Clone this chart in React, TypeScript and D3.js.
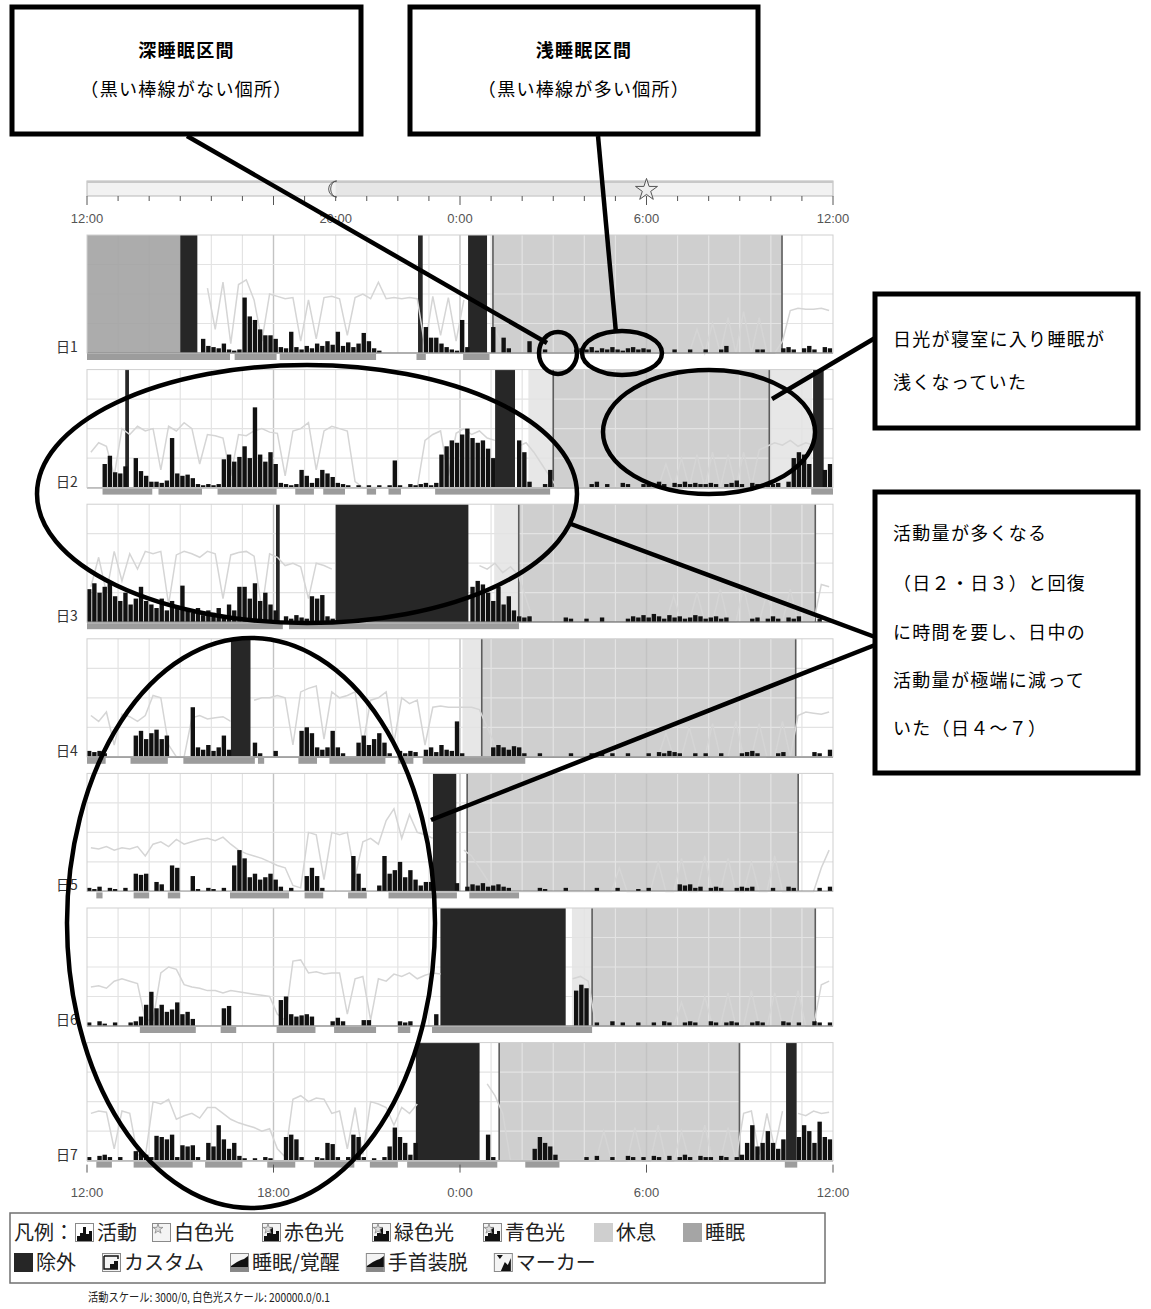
import React, { useEffect, useRef } from "react";
import * as d3 from "d3";

const N = null;

const dayLabels = ["日1", "日2", "日3", "日4", "日5", "日6", "日7"];

// activity, 10-minute bins from 12:00 (144 per day), % of row height
const act1 = [
  0, 0, 0, 0, 0, 0, 0, 0, 0, 0, 0, 0,
  0, 0, 0, 0, 0, 0, 0, 0, 0, 0, 12, 6,
  5, 4, 8, 3, 2, 3, 47, 31, 28, 20, 15, 15,
  12, 5, 4, 18, 5, 3, 6, 4, 8, 6, 10, 7,
  18, 6, 9, 5, 8, 17, 10, 4, 2, 0, 0, 0,
  0, 0, 0, 0, 0, 22, 13, 13, 8, 5, 3, 2,
  28, 5, 0, 0, 0, 0, 22, 0, 13, 4, 0, 0,
  0, 10, 0, 0, 3, 0, 0, 0, 0, 0, 3, 4,
  3, 5, 2, 4, 3, 5, 3, 2, 4, 5, 3, 4,
  3, 0, 0, 0, 0, 3, 0, 0, 3, 0, 0, 3,
  0, 0, 3, 6, 0, 0, 0, 0, 0, 3, 3, 0,
  0, 0, 4, 5, 3, 0, 4, 6, 3, 0, 5, 4,
];
const act2 = [
  0, 0, 0, 20, 27, 13, 12, 18, 0, 25, 14, 10,
  5, 5, 4, 6, 42, 12, 10, 11, 8, 3, 2, 3,
  2, 3, 24, 28, 22, 26, 35, 25, 68, 28, 22, 30,
  20, 4, 3, 2, 3, 15, 10, 4, 8, 15, 12, 9,
  4, 3, 2, 0, 2, 0, 2, 0, 2, 0, 2, 23,
  2, 0, 3, 2, 3, 4, 2, 4, 28, 35, 40, 38,
  45, 50, 42, 38, 40, 33, 25, 0, 0, 0, 0, 40,
  30, 5, 0, 0, 3, 15, 0, 0, 0, 0, 0, 0,
  0, 3, 5, 0, 3, 0, 0, 4, 3, 0, 0, 3,
  4, 3, 5, 3, 0, 4, 3, 5, 3, 4, 3, 3,
  4, 3, 0, 3, 4, 6, 3, 0, 4, 3, 0, 4,
  3, 4, 0, 5, 25, 30, 28, 20, 0, 0, 15, 20,
];
const act3 = [
  28, 33, 25, 30, 33, 22, 18, 25, 15, 20, 30, 18,
  15, 12, 20, 10, 18, 14, 31, 10, 8, 12, 6, 10,
  8, 12, 6, 15, 10, 30, 30, 20, 33, 18, 25, 15,
  10, 0, 5, 3, 6, 4, 3, 22, 20, 23, 5, 3,
  0, 0, 0, 0, 0, 0, 0, 0, 0, 0, 0, 0,
  0, 0, 0, 0, 0, 0, 0, 0, 0, 0, 0, 0,
  0, 0, 30, 35, 32, 25, 18, 30, 15, 22, 10, 5,
  4, 5, 0, 0, 0, 0, 0, 0, 4, 3, 0, 0,
  3, 0, 0, 4, 0, 0, 0, 0, 3, 5, 4, 6,
  4, 7, 5, 3, 6, 4, 5, 3, 4, 6, 5, 3,
  4, 5, 3, 4, 0, 0, 0, 0, 3, 4, 0, 3,
  5, 3, 0, 4, 3, 5, 0, 0, 0, 3, 0, 2,
];
const act4 = [
  5, 4, 5, 3, 0, 0, 0, 0, 0, 18, 22, 15,
  20, 23, 15, 18, 0, 0, 0, 0, 42, 8, 6, 10,
  5, 8, 18, 6, 0, 0, 0, 0, 12, 3, 0, 0,
  5, 0, 0, 0, 0, 22, 25, 20, 8, 6, 8, 22,
  8, 3, 0, 0, 12, 18, 10, 15, 20, 12, 3, 0,
  5, 3, 5, 4, 0, 6, 8, 4, 10, 6, 5, 30,
  3, 0, 0, 0, 0, 0, 8, 10, 8, 6, 9, 8,
  3, 0, 0, 3, 0, 0, 0, 0, 0, 3, 0, 0,
  0, 3, 0, 4, 0, 3, 0, 0, 3, 0, 0, 0,
  3, 0, 4, 3, 5, 4, 3, 0, 0, 3, 0, 3,
  0, 0, 3, 0, 0, 0, 3, 4, 5, 3, 0, 0,
  0, 3, 4, 0, 0, 0, 0, 0, 4, 3, 0, 6,
];
const act5 = [
  3, 2, 4, 0, 3, 2, 0, 3, 0, 15, 14, 15,
  0, 8, 6, 0, 22, 20, 0, 0, 13, 2, 0, 3,
  2, 0, 3, 0, 22, 35, 28, 12, 15, 10, 12, 15,
  10, 4, 0, 3, 0, 0, 13, 20, 13, 3, 0, 0,
  0, 0, 0, 30, 15, 3, 0, 0, 5, 30, 15, 18,
  25, 12, 18, 10, 5, 8, 8, 0, 0, 0, 0, 7,
  0, 4, 6, 5, 7, 4, 5, 6, 4, 3, 0, 0,
  0, 0, 0, 3, 2, 0, 0, 0, 3, 0, 0, 0,
  0, 0, 3, 0, 0, 0, 3, 0, 0, 0, 2, 0,
  3, 0, 0, 0, 0, 0, 6, 5, 6, 3, 4, 0,
  3, 4, 3, 0, 0, 3, 4, 3, 4, 0, 0, 0,
  3, 0, 0, 4, 3, 0, 0, 0, 0, 3, 0, 4,
];
const act6 = [
  3, 0, 4, 2, 0, 3, 0, 0, 3, 4, 8, 18,
  29, 15, 18, 12, 14, 20, 10, 12, 6, 0, 0, 0,
  0, 0, 15, 17, 0, 0, 0, 0, 0, 0, 0, 0,
  0, 22, 25, 10, 8, 9, 10, 8, 0, 0, 0, 4,
  7, 4, 0, 0, 0, 5, 5, 0, 0, 0, 0, 0,
  4, 3, 4, 0, 0, 0, 0, 10, 0, 0, 0, 0,
  0, 0, 0, 0, 0, 0, 0, 0, 0, 0, 0, 0,
  0, 0, 0, 0, 0, 0, 0, 0, 0, 0, 30, 35,
  32, 0, 3, 0, 0, 4, 0, 3, 0, 0, 3, 0,
  0, 3, 0, 4, 3, 0, 0, 3, 4, 3, 0, 0,
  4, 3, 0, 3, 4, 3, 0, 0, 3, 4, 3, 0,
  0, 0, 4, 3, 0, 3, 0, 0, 4, 3, 0, 3,
];
const act7 = [
  3, 0, 4, 5, 3, 0, 3, 0, 0, 8, 8, 5,
  3, 21, 20, 18, 22, 3, 13, 12, 13, 3, 0, 15,
  12, 30, 18, 10, 15, 4, 2, 0, 2, 0, 3, 2,
  0, 0, 20, 22, 18, 3, 0, 0, 3, 2, 15, 14,
  3, 0, 3, 22, 20, 3, 0, 2, 0, 3, 12, 28,
  20, 15, 5, 15, 0, 0, 0, 0, 0, 0, 0, 0,
  0, 0, 0, 0, 0, 22, 3, 0, 0, 0, 0, 0,
  0, 0, 10, 20, 15, 12, 5, 0, 0, 0, 0, 0,
  3, 0, 4, 0, 0, 3, 0, 0, 4, 3, 0, 3,
  0, 4, 3, 0, 4, 0, 3, 5, 3, 0, 4, 3,
  3, 0, 4, 3, 0, 3, 5, 15, 30, 12, 15, 25,
  15, 10, 18, 0, 0, 20, 30, 25, 15, 33, 20, 18,
];

// white light, 15-minute bins from 12:00 (96 per day), % of row height, null = no data
const light1 = [
  N, N, N, N, N, N, N, N,
  N, N, N, N, N, N, N, 55,
  20, 60, 8, 58, 62, 45, 10, 50,
  48, 46, 47, 10, 45, 12, 47, 48,
  46, 15, 47, 50, 46, 60, 46, 47,
  46, 47, 46, 5, 48, 15, 47, 10,
  45, N, N, N, 20, 5, 0, 0,
  0, 0, 0, 0, 0, 0, 0, 0,
  0, 0, 0, 0, 0, 0, 0, 0,
  0, 0, 0, 0, 0, 0, 20, 0,
  25, 0, 30, 0, 35, 0, 30, 0,
  0, 10, 36, 38, 37, 37, 38, 36,
];
const light2 = [
  30, 38, 35, 10, 50, 45, 52, 48,
  50, 15, 52, 48, 55, 50, 20, 45,
  44, 42, 10, 45, 44, 48, 50, 47,
  46, 10, 48, 50, 55, 15, 48, 52,
  50, 48, 5, 0, 0, 0, 0, 0,
  0, 0, 0, 40, 45, 48, 10, 46,
  50, 45, 48, 42, 40, N, N, 35,
  38, 30, 20, 10, 0, 0, 0, 0,
  0, 0, 0, 0, 0, 0, 0, 0,
  0, 0, 20, 0, 25, 0, 28, 0,
  30, 0, 28, 0, 30, 0, 32, 35,
  38, 36, 40, 35, 38, 36, N, 40,
];
const light3 = [
  30, 55, 25, 60, 35, 58, 45, 60,
  58, 60, 15, 57, 60, 58, 55, 60,
  58, 20, 57, 59, 60, 56, 10, 58,
  55, 48, 50, 47, 20, 50, 48, 45,
  N, N, N, N, N, N, N, N,
  N, N, N, N, N, N, N, N,
  N, N, 48, 45, 50, 42, 47, 40,
  20, 0, 0, 0, 0, 0, 0, 0,
  0, 0, 0, 0, 0, 0, 0, 0,
  0, 0, 0, 22, 0, 0, 25, 0,
  0, 28, 0, 0, 30, 0, 0, 25,
  0, 0, 28, 0, 0, 0, 32, 30,
];
const light4 = [
  35, 30, 38, 10, 36, 34, 30, 35,
  52, 50, 10, 0, 0, 33, 35, 32,
  33, 34, 30, N, N, 48, 50, 50,
  52, 50, 10, 55, 58, 60, 15, 55,
  50, 52, 55, 10, 48, 50, 55, 12,
  50, 45, 48, 10, 42, 43, 42, 42,
  42, 42, 40, 25, 10, 0, 0, 0,
  0, 0, 0, 0, 0, 0, 0, 0,
  0, 0, 0, 0, 0, 0, 0, 0,
  0, 0, 20, 0, 0, 25, 0, 0,
  28, 0, 0, 30, 0, 0, 28, 0,
  0, 30, 0, 35, 38, 37, 36, 38,
];
const light5 = [
  37, 36, 38, 35, 37, 36, 38, 30,
  40, 42, 38, 44, 40, 42, 44, 45,
  43, 46, 40, 35, 32, 30, 28, 25,
  22, 20, 5, 3, 50, 48, 10, 50,
  48, 50, 12, 42, 45, 40, 60, 70,
  45, 65, 50, 48, 45, N, N, N,
  35, 30, 20, 10, 0, 0, 0, 0,
  0, 0, 0, 0, 0, 0, 0, 0,
  0, 0, 0, 0, 20, 0, 0, 0,
  0, 25, 0, 0, 28, 0, 0, 30,
  0, 0, 28, 0, 0, 25, 0, 0,
  30, 0, 0, 0, 0, 0, 20, 35,
];
const light6 = [
  33, 34, 32, 38, 40, 38, 36, 5,
  5, 45, 50, 48, 35, 33, 32, 30,
  30, 28, 30, 29, 28, 27, 26, 25,
  10, 5, 55, 56, 45, 46, 44, 45,
  45, 10, 40, 42, 5, 40, 38, 44,
  42, 45, 40, 43, 45, 44, N, N,
  N, N, N, N, N, N, N, N,
  N, N, N, N, N, N, 40, 42,
  38, 0, 0, 0, 0, 0, 0, 0,
  0, 0, 0, 0, 20, 0, 0, 25,
  0, 0, 28, 0, 0, 30, 0, 0,
  28, 0, 0, 30, 0, 0, 35, 38,
];
const light7 = [
  40, 42, 41, 10, 42, 40, 5, 3,
  50, 48, 52, 35, 38, 40, 36, 45,
  45, 40, 35, 32, 30, 28, 25, 27,
  10, 3, 52, 55, 50, 53, 52, 40,
  42, 10, 45, 5, 50, 48, 45, 30,
  45, 40, 48, N, N, N, N, N,
  N, N, N, 65, 55, 40, 0, 0,
  0, 0, 0, 0, 0, 0, 0, 0,
  0, 0, 25, 0, 0, 0, 28, 0,
  0, 30, 0, 0, 25, 0, 0, 30,
  0, 0, 28, 0, 40, 42, 5, 40,
  10, 42, N, 40, 38, 42, 40, 41,
];

const activity = [act1, act2, act3, act4, act5, act6, act7];
const light = [light1, light2, light3, light4, light5, light6, light7];

// intervals in hours after 12:00
const sleepSpans = [[[0, 3.0]], [], [], [], [], [], []];
const excludedSpans = [
  [[3.0, 3.55], [10.65, 10.8], [12.26, 12.87]],
  [[1.23, 1.35], [13.13, 13.77], [23.36, 23.7]],
  [[6.08, 6.2], [8.0, 12.27]],
  [[4.63, 5.26]],
  [[11.13, 11.88]],
  [[11.37, 15.4]],
  [[10.58, 12.63], [22.49, 22.83]],
];
const restSpans = [
  [[13.06, 22.36]],
  [[15.0, 21.95]],
  [[13.89, 23.43]],
  [[12.7, 22.8]],
  [[12.23, 22.88]],
  [[16.25, 23.43]],
  [[13.26, 20.99]],
];
const dimSpans = [
  [],
  [[14.2, 15.0], [21.95, 23.33]],
  [[13.1, 13.89]],
  [[12.08, 12.7]],
  [],
  [[15.6, 16.25]],
  [],
];
const wakeSpans = [
  [[0, 4.6], [4.75, 6.1], [6.2, 9.3], [10.6, 10.9], [12.1, 12.95]],
  [[0.5, 2.1], [2.3, 3.7], [4.2, 6.1], [6.7, 7.3], [7.6, 8.3], [9.0, 9.3], [9.7, 10.1], [11.2, 14.9], [23.3, 24]],
  [[0, 6.3], [6.5, 13.9]],
  [[0, 0.6], [1.4, 2.6], [3.1, 5.4], [5.5, 5.7], [6.8, 7.4], [7.8, 9.6], [10.0, 10.5], [10.8, 14.1]],
  [[0.3, 0.5], [1.5, 2.0], [2.6, 3.0], [4.6, 6.5], [7.0, 7.6], [8.4, 9.0], [9.7, 11.9], [12.3, 13.9]],
  [[1.7, 3.5], [4.3, 4.8], [6.1, 7.35], [7.95, 9.3], [10.0, 10.4], [11.1, 16.25]],
  [[0.3, 0.8], [1.5, 3.4], [3.8, 5.0], [5.8, 6.7], [7.3, 8.6], [9.1, 10.0], [10.3, 13.2], [14.1, 15.2], [22.45, 22.85]],
];

const topTickHours = [0, 8, 12, 18, 24];
const topTickLabels = ["12:00", "20:00", "0:00", "6:00", "12:00"];
const bottomTickHours = [0, 6, 12, 18, 24];
const bottomTickLabels = ["12:00", "18:00", "0:00", "6:00", "12:00"];

const legendRow1 = [
  ["act", "活動"], ["white", "白色光"], ["red", "赤色光"], ["green", "緑色光"],
  ["blue", "青色光"], ["rest", "休息"], ["sleep", "睡眠"],
];
const legendRow2 = [
  ["excl", "除外"], ["custom", "カスタム"], ["sw", "睡眠/覚醒"], ["wrist", "手首装脱"], ["marker", "マーカー"],
];
const legendRow1X = [75, 152, 262, 372, 483, 594, 683];
const footerText = "活動スケール: 3000/0, 白色光スケール: 200000.0/0.1";

const callouts = [
  { x: 12, y: 7, w: 349, h: 127, lines: ["深睡眠区間", "（黒い棒線がない個所）"], center: true, ys: [57, 96] },
  { x: 410, y: 7, w: 348, h: 127, lines: ["浅睡眠区間", "（黒い棒線が多い個所）"], center: true, ys: [57, 96] },
  { x: 875, y: 294, w: 263, h: 134, lines: ["日光が寝室に入り睡眠が", "浅くなっていた"], center: false, ys: [346, 389] },
  {
    x: 875, y: 492, w: 263, h: 281,
    lines: ["活動量が多くなる", "（日２・日３）と回復", "に時間を要し、日中の", "活動量が極端に減って", "いた（日４～７）"],
    center: false, ys: [540, 590, 639, 687, 735],
  },
];
const pointerLines = [
  [187, 136, 547, 343],
  [598, 136, 616, 333],
  [875, 338, 772, 399],
  [875, 637, 571, 524],
  [875, 645, 431, 820],
];
const rings = [
  [558, 353, 19, 21],
  [622, 353, 40, 22],
  [709, 432, 106, 62],
  [307, 494, 270, 129],
  [251, 923, 184, 285],
];

const W = 1151;
const H = 1309;
const ROW_TOP = 235;
const ROW_STEP = 134.6;
const PLOT_H = 118;
const JP = "'Noto Sans CJK JP', 'Noto Sans', sans-serif";
const AX = "'Liberation Sans Narrow', 'Liberation Sans', Arial, sans-serif";

function App() {
  const ref = useRef<SVGSVGElement>(null);

  useEffect(() => {
    const svg = d3.select(ref.current);
    svg.selectAll("*").remove();

    const x = d3.scaleLinear().domain([0, 24]).range([87, 833]);

    // top day/night bar
    const top = svg.append("g");
    top.append("rect").attr("x", x(0)).attr("y", 181).attr("width", x(24) - x(0)).attr("height", 15)
      .attr("fill", "#f2f2f2").attr("stroke", "#b8b8b8");
    top.append("rect").attr("x", x(8)).attr("y", 182).attr("width", x(18) - x(8)).attr("height", 13)
      .attr("fill", "#e6e6e6");
    top.append("line").attr("x1", x(0)).attr("x2", x(24)).attr("y1", 182).attr("y2", 182).attr("stroke", "#c8c8c8").attr("stroke-width", 2);
    top.selectAll("line.tk").data(d3.range(25)).join("line").attr("class", "tk")
      .attr("x1", (h) => x(h)).attr("x2", (h) => x(h))
      .attr("y1", 196).attr("y2", (h) => (h % 6 === 0 ? 205 : 201))
      .attr("stroke", "#555").attr("stroke-width", 1);
    top.append("path")
      .attr("transform", `translate(${x(8) - 1},189)`)
      .attr("d", "M2,-8 A8,8 0 1,0 2,8 A6,8 0 1,1 2,-8Z")
      .attr("fill", "#fff").attr("stroke", "#555").attr("stroke-width", 1);
    top.append("path")
      .attr("transform", `translate(${x(18)},190)`)
      .attr("d", d3.symbol(d3.symbolStar, 150)())
      .attr("fill", "#eee").attr("stroke", "#555").attr("stroke-width", 1);
    top.selectAll("text").data(topTickHours).join("text")
      .attr("x", (h) => x(h)).attr("y", 223).attr("text-anchor", "middle")
      .style("font-family", AX).style("font-size", "13px").attr("fill", "#555")
      .text((h, i) => topTickLabels[i]);

    const y = d3.scaleLinear().domain([0, 100]).range([PLOT_H, 0]);
    const binW = x(1 / 6) - x(0);

    dayLabels.forEach((label, i) => {
      const g = svg.append("g").attr("transform", `translate(0,${ROW_TOP + i * ROW_STEP})`);

      g.append("rect").attr("x", x(0)).attr("y", 0).attr("width", x(24) - x(0)).attr("height", PLOT_H).attr("fill", "#fff");

      const spans = (list, fill, cls, op = 1) =>
        g.selectAll(`rect.${cls}`).data(list).join("rect").attr("class", cls)
          .attr("x", (s) => x(s[0])).attr("width", (s) => x(s[1]) - x(s[0]))
          .attr("y", 0).attr("height", PLOT_H).attr("fill", fill).attr("fill-opacity", op);

      spans(dimSpans[i], "#e7e7e7", "dim");
      spans(restSpans[i], "#cfcfcf", "rest");

      // grid
      g.selectAll("line.vg").data(d3.range(1, 24)).join("line").attr("class", "vg")
        .attr("x1", (h) => x(h)).attr("x2", (h) => x(h)).attr("y1", 0).attr("y2", PLOT_H)
        .attr("stroke", (h) => (h % 6 === 0 ? "#c3c3c3" : "#e3e3e3")).attr("stroke-width", (h) => (h % 6 === 0 ? 1.4 : 1.2));
      g.selectAll("line.hg").data([25, 50, 75]).join("line").attr("class", "hg")
        .attr("x1", x(0)).attr("x2", x(24)).attr("y1", (v) => y(v)).attr("y2", (v) => y(v))
        .attr("stroke", "#e3e3e3").attr("stroke-width", 1.2);

      spans(sleepSpans[i], "#a0a0a0", "sleep", 0.88);

      // rest interval boundaries
      g.selectAll("line.rb").data(restSpans[i].flat()).join("line").attr("class", "rb")
        .attr("x1", (h) => x(h)).attr("x2", (h) => x(h)).attr("y1", 0).attr("y2", PLOT_H)
        .attr("stroke", "#5c5c5c").attr("stroke-width", 1.6);

      spans(excludedSpans[i], "#272727", "excl");

      // white light
      const line = d3.line<number | null>()
        .defined((v) => v != null)
        .x((v, k) => x(k * 0.25 + 0.125))
        .y((v) => y(v as number));
      g.append("path").datum(light[i]).attr("d", line)
        .attr("fill", "none").attr("stroke", "#d5d5d5").attr("stroke-width", 1.5);

      // activity
      g.selectAll("rect.act").data(activity[i].map((v, k) => [k, v]).filter((d) => d[1] > 0))
        .join("rect").attr("class", "act")
        .attr("x", (d) => x(d[0] / 6)).attr("width", binW - 0.8)
        .attr("y", (d) => y(d[1])).attr("height", (d) => PLOT_H - y(d[1]))
        .attr("fill", "#111");

      // baseline
      g.append("line").attr("x1", x(0)).attr("x2", x(24)).attr("y1", PLOT_H).attr("y2", PLOT_H)
        .attr("stroke", "#222").attr("stroke-width", 1.2);

      // sleep / wake band
      g.selectAll("rect.wake").data(wakeSpans[i]).join("rect").attr("class", "wake")
        .attr("x", (s) => x(s[0])).attr("width", (s) => x(s[1]) - x(s[0]))
        .attr("y", PLOT_H + 1).attr("height", 6).attr("fill", "#9c9c9c");

      g.append("rect").attr("x", x(0)).attr("y", 0).attr("width", x(24) - x(0)).attr("height", PLOT_H)
        .attr("fill", "none").attr("stroke", "#cfcfcf");

      g.append("text").attr("x", 56).attr("y", PLOT_H - 1)
        .style("font-family", JP).style("font-size", "14px").attr("fill", "#333").text(label);
    });

    // bottom axis
    const axY = ROW_TOP + 6 * ROW_STEP + PLOT_H;
    const bottom = svg.append("g");
    bottom.selectAll("line").data(bottomTickHours).join("line")
      .attr("x1", (h) => x(h)).attr("x2", (h) => x(h)).attr("y1", axY + 4).attr("y2", axY + 12)
      .attr("stroke", "#555");
    bottom.selectAll("text").data(bottomTickHours).join("text")
      .attr("x", (h) => x(h)).attr("y", axY + 36).attr("text-anchor", "middle")
      .style("font-family", AX).style("font-size", "13px").attr("fill", "#555")
      .text((h, i) => bottomTickLabels[i]);

    // legend
    const lg = svg.append("g");
    lg.append("rect").attr("x", 10).attr("y", 1213).attr("width", 815).attr("height", 70)
      .attr("fill", "#fff").attr("stroke", "#707070").attr("stroke-width", 1.5);

    const icon = (kind, ix, iy) => {
      const c = lg.append("g").attr("transform", `translate(${ix},${iy})`);
      if (kind === "rest" || kind === "sleep" || kind === "excl") {
        c.append("rect").attr("width", 19).attr("height", 19)
          .attr("fill", kind === "rest" ? "#cfcfcf" : kind === "sleep" ? "#a5a5a5" : "#262626");
        return;
      }
      c.append("rect").attr("x", 0.5).attr("y", 0.5).attr("width", 18).attr("height", 18)
        .attr("fill", kind === "act" ? "#fff" : "#f4f4f4").attr("stroke", "#8a8a8a");
      if (kind === "act" || kind === "red" || kind === "green" || kind === "blue") {
        c.append("path").attr("d", "M2,18 L2,13 L5,13 L5,10 L8,10 L8,4 L11,4 L11,11 L14,11 L14,8 L17,8 L17,18Z").attr("fill", "#111");
      }
      if (kind === "white" || kind === "red" || kind === "green" || kind === "blue") {
        c.append("path").attr("transform", "translate(6,6)").attr("d", d3.symbol(d3.symbolStar, 30)())
          .attr("fill", "#ddd").attr("stroke", "#888").attr("stroke-width", 0.8);
      }
      if (kind === "custom") {
        c.append("path").attr("d", "M2,3 L16,3 L16,6 M2,3 L2,16 L16,16").attr("fill", "none").attr("stroke", "#111").attr("stroke-width", 1.5);
        c.append("path").attr("d", "M8,16 L8,11 L12,11 L12,8 L16,8 L16,16Z").attr("fill", "#111");
      }
      if (kind === "sw" || kind === "wrist") {
        c.append("path").attr("d", "M1,13 L4,11 L7,9 L11,7 L14,6 L18,3 L18,14 L1,14Z").attr("fill", "#111");
        c.append("rect").attr("x", 1).attr("y", 14).attr("width", 17).attr("height", 4).attr("fill", "#888");
      }
      if (kind === "marker") {
        c.append("path").attr("d", "M3,2 L9,2 L6,6Z").attr("fill", "#111");
        c.append("path").attr("d", "M7,18 L11,9 L14,12 L17,5 L17,18Z").attr("fill", "#111");
      }
    };

    const legendText = (tx, ty, text) =>
      lg.append("text").attr("x", tx).attr("y", ty)
        .style("font-family", JP).style("font-size", "20px").attr("fill", "#222").text(text);

    legendText(14, 1240, "凡例：");
    legendRow1.forEach(([kind, text], k) => {
      icon(kind, legendRow1X[k], 1223);
      legendText(legendRow1X[k] + 22, 1240, text);
    });

    let cx = 14;
    legendRow2.forEach(([kind, text]) => {
      icon(kind, cx, 1253);
      const t = legendText(cx + 22, 1270, text);
      cx += 22 + (t.node() as SVGTextElement).getComputedTextLength() + 26;
    });

    svg.append("text").attr("x", 88).attr("y", 1302)
      .attr("textLength", 242).attr("lengthAdjust", "spacingAndGlyphs")
      .style("font-family", JP).style("font-size", "12px").attr("fill", "#222").text(footerText);

    // annotations
    const ann = svg.append("g");
    ann.selectAll("ellipse").data(rings).join("ellipse")
      .attr("cx", (r) => r[0]).attr("cy", (r) => r[1]).attr("rx", (r) => r[2]).attr("ry", (r) => r[3])
      .attr("fill", "none").attr("stroke", "#000").attr("stroke-width", 4.5);
    ann.selectAll("line").data(pointerLines).join("line")
      .attr("x1", (l) => l[0]).attr("y1", (l) => l[1]).attr("x2", (l) => l[2]).attr("y2", (l) => l[3])
      .attr("stroke", "#000").attr("stroke-width", 4.5);

    callouts.forEach((c) => {
      const b = ann.append("g");
      b.append("rect").attr("x", c.x).attr("y", c.y).attr("width", c.w).attr("height", c.h)
        .attr("fill", "#fff").attr("stroke", "#000").attr("stroke-width", 5);
      c.lines.forEach((ln, k) => {
        b.append("text")
          .attr("x", c.center ? c.x + c.w / 2 : c.x + 18)
          .attr("y", c.ys[k])
          .attr("text-anchor", c.center ? "middle" : "start")
          .style("font-family", JP).style("font-size", "18px")
          .style("font-weight", c.center && k === 0 ? "bold" : "normal")
          .style("letter-spacing", "1.3px")
          .attr("fill", "#000").text(ln);
      });
    });
  }, []);

  return (
    <div style={{ position: "absolute", left: 0, top: 0 }}>
      <svg ref={ref} width={W} height={H} style={{ display: "block", background: "#fff" }} />
    </div>
  );
}

export default App;
